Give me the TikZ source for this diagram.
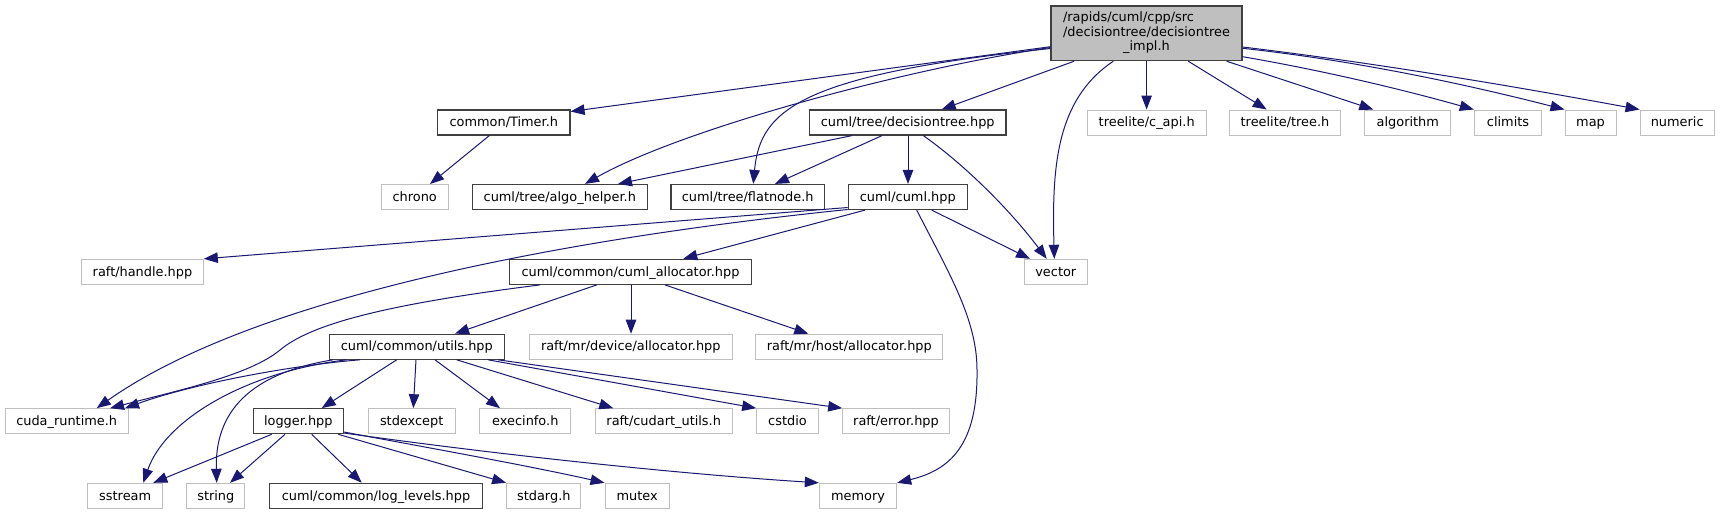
\documentclass[tikz,border=0pt]{standalone}
\usepackage{fontspec}
\setmainfont{DejaVu Sans}
\usetikzlibrary{arrows.meta}
\definecolor{edgeblue}{HTML}{191970}
\definecolor{gdark}{HTML}{404040}
\definecolor{glight}{HTML}{BFBFBF}
\begin{document}
\begin{tikzpicture}[x=1pt,y=-1pt,
  font=\fontsize{12.9}{14.2}\selectfont,
  box/.style={inner sep=0pt, minimum height=25pt, text height=10pt, text depth=1.6pt, fill=white},
  doc/.style={box, draw=gdark, line width=1.2pt},
  ext/.style={box, draw=glight, line width=1pt},
  rootbox/.style={draw=gdark, line width=1.2pt, fill=glight, inner sep=0pt, minimum width=191pt, minimum height=54.7pt},
  e/.style={draw=edgeblue, line width=1pt, -{Triangle[length=14pt,width=10.5pt]}}
]
\fill[white] (0,0) rectangle (1720,515);
\useasboundingbox (0,0) rectangle (1720,515);

% row 0
\node[rootbox] (main) at (1146.5,33.3) {\begin{tabular}{@{}l@{}}/rapids/cuml/cpp/src\\/decisiontree/decisiontree\\\multicolumn{1}{@{}c@{}}{\_impl.h}\end{tabular}};
% row 1
\node[doc, minimum width=132.3pt] (timer) at (503.8,122.5) {common/Timer.h};
\node[doc, minimum width=196.7pt] (dtree) at (907.7,122.5) {cuml/tree/decisiontree.hpp};
\node[ext, minimum width=118.7pt] (capi) at (1146.7,122.5) {treelite/c\_api.h};
\node[ext, minimum width=111.4pt] (treeh) at (1285,122.5) {treelite/tree.h};
\node[ext, minimum width=85.7pt] (algorithm) at (1407.8,122.5) {algorithm};
\node[ext, minimum width=67.4pt] (climits) at (1508,122.5) {climits};
\node[ext, minimum width=51pt] (map) at (1590.5,122.5) {map};
\node[ext, minimum width=74.3pt] (numeric) at (1677.2,122.5) {numeric};
% row 2
\node[ext, minimum width=67.3pt] (chrono) at (414.7,197) {chrono};
\node[doc, minimum width=175pt] (algo) at (559.8,197) {cuml/tree/algo\_helper.h};
\node[doc, minimum width=153.3pt] (flat) at (747.7,197) {cuml/tree/flatnode.h};
\node[doc, minimum width=119pt] (cumlhpp) at (907.8,197) {cuml/cuml.hpp};
% row 3
\node[ext, minimum width=121.6pt] (handle) at (142.5,271.8) {raft/handle.hpp};
\node[doc, minimum width=242.4pt] (alloc) at (630.5,271.8) {cuml/common/cuml\_allocator.hpp};
\node[ext, minimum width=63pt] (vector) at (1055.8,271.8) {vector};
% row 4
\node[doc, minimum width=175pt] (utils) at (416.8,346.7) {cuml/common/utils.hpp};
\node[ext, minimum width=203pt] (device) at (630.8,346.7) {raft/mr/device/allocator.hpp};
\node[ext, minimum width=186.7pt] (host) at (849.3,346.7) {raft/mr/host/allocator.hpp};
% row 5
\node[ext, minimum width=123.3pt] (cuda) at (66.7,421.2) {cuda\_runtime.h};
\node[doc, minimum width=90pt] (logger) at (298.3,421.2) {logger.hpp};
\node[ext, minimum width=86.7pt] (stdexcept) at (411.7,421.2) {stdexcept};
\node[ext, minimum width=90.7pt] (execinfo) at (525.3,421.2) {execinfo.h};
\node[ext, minimum width=137.3pt] (cudart) at (663.7,421.2) {raft/cudart\_utils.h};
\node[ext, minimum width=61.6pt] (cstdio) at (787.5,421.2) {cstdio};
\node[ext, minimum width=106.6pt] (error) at (896,421.2) {raft/error.hpp};
% row 6
\node[ext, minimum width=75pt] (sstream) at (125.2,495.8) {sstream};
\node[ext, minimum width=58.3pt] (string) at (215.8,495.8) {string};
\node[doc, minimum width=213.4pt] (loglevels) at (376,495.8) {cuml/common/log\_levels.hpp};
\node[ext, minimum width=74.3pt] (stdarg) at (543.8,495.8) {stdarg.h};
\node[ext, minimum width=64.3pt] (mutex) at (637.2,495.8) {mutex};
\node[ext, minimum width=77.4pt] (memory) at (858,495.8) {memory};

% edges from main
\draw[e] (main.west |- 0,46.7) -- (timer.east |- 0,111.5);
\draw[e] (main.west |- 0,47.5) .. controls (900,70) and (680,130) .. (algo.north -| 585,0);
\draw[e] (main.west |- 0,48.5) .. controls (800,75) and (760,110) .. (flat.north -| 753.3,0);
\draw[e] (main.south -| 1074,0) -- (dtree.north -| 941.7,0);
\draw[e] (main.south -| 1113.3,0) .. controls (1055,100) and (1052,170) .. (vector.north -| 1054.3,0);
\draw[e] (main.south -| 1146.6,0) -- (capi.north -| 1146.6,0);
\draw[e] (main.south -| 1188.3,0) -- (treeh.north -| 1266.7,0);
\draw[e] (main.south -| 1226.7,0) -- (algorithm.north -| 1373.3,0);
\draw[e] (main.east |- 0,56.7) .. controls (1320,70) and (1397,88) .. (climits.north west);
\draw[e] (main.east |- 0,48.3) .. controls (1350,60) and (1457,82) .. (map.north west);
\draw[e] (main.east |- 0,47) .. controls (1375,63) and (1507,85) .. (numeric.north west);

% Timer
\draw[e] (timer.south -| 489.3,0) -- (chrono.north -| 430,0);

% decisiontree.hpp
\draw[e] (dtree.south -| 852,0) -- (algo.north -| 618,0);
\draw[e] (dtree.south -| 882,0) -- (flat.north -| 775,0);
\draw[e] (dtree.south -| 908,0) -- (cumlhpp.north -| 908,0);
\draw[e] (dtree.south -| 923.3,0) .. controls (965,165) and (1010,210) .. (vector.north -| 1046.7,0);

% cuml.hpp
\draw[e] (cumlhpp.south -| 931.7,0) -- (vector.north -| 1030,0);
\draw[e] (cumlhpp.south -| 916.7,0) .. controls (950,275) and (977,320) .. (977,370) .. controls (978,445) and (950,470) .. (memory.north east);
\draw[e] (cumlhpp.west |- 0,207.5) -- (handle.north east);
\draw[e] (cumlhpp.west |- 0,209.5) .. controls (550,240) and (250,300) .. (cuda.north -| 96.7,0);
\draw[e] (cumlhpp.south -| 865,0) -- (alloc.north -| 683.3,0);

% cuml_allocator.hpp
\draw[e] (alloc.south -| 540,0) .. controls (380,305) and (310,325) .. (280,350) .. controls (250,375) and (180,390) .. (cuda.north -| 110,0);
\draw[e] (alloc.south -| 596.7,0) -- (utils.north -| 455,0);
\draw[e] (alloc.south -| 631,0) -- (device.north -| 631,0);
\draw[e] (alloc.south -| 665,0) -- (host.north -| 808.3,0);

% utils.hpp
\draw[e] (utils.south -| 360,0) .. controls (295,365) and (195,383) .. (cuda.north -| 125,0);
\draw[e] (utils.south -| 346.7,0) .. controls (245,372) and (165,420) .. (sstream.north -| 143.3,0);
\draw[e] (utils.south -| 333,0) .. controls (240,375) and (215,420) .. (string.north -| 216.7,0);
\draw[e] (utils.south -| 396.7,0) -- (logger.north -| 321.7,0);
\draw[e] (utils.south -| 416,0) -- (stdexcept.north -| 413.3,0);
\draw[e] (utils.south -| 435,0) -- (execinfo.north -| 500,0);
\draw[e] (utils.south -| 456.7,0) -- (cudart.north -| 613.3,0);
\draw[e] (utils.south -| 488,0) -- (cstdio.north west);
\draw[e] (utils.south -| 498,0) -- (error.north west);

% logger.hpp
\draw[e] (logger.south -| 271.7,0) -- (sstream.north -| 153.3,0);
\draw[e] (logger.south -| 285,0) -- (string.north -| 230,0);
\draw[e] (logger.south -| 311.7,0) -- (loglevels.north -| 361.7,0);
\draw[e] (logger.south -| 338.3,0) -- (stdarg.north west);
\draw[e] (logger.east |- 0,432) .. controls (430,448) and (530,466) .. (mutex.north west);
\draw[e] (logger.east |- 0,433) .. controls (500,455) and (680,474) .. (memory.north west);
\end{tikzpicture}
\end{document}
